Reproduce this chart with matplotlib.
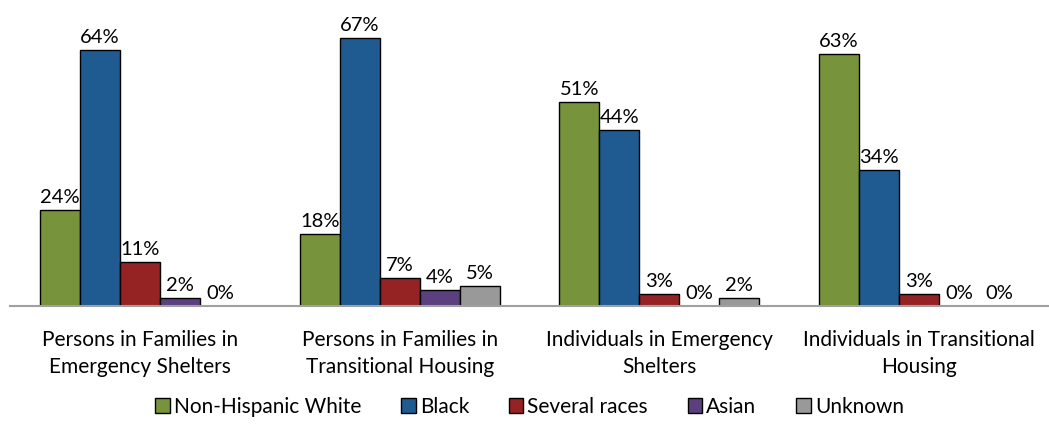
import numpy as np
import matplotlib.pyplot as plt

plt.rcParams['font.family'] = ['Lato', 'DejaVu Sans']

categories = ['Persons in Families in\nEmergency Shelters',
              'Persons in Families in\nTransitional Housing',
              'Individuals in Emergency\nShelters',
              'Individuals in Transitional\nHousing']
series = ['Non-Hispanic White', 'Black', 'Several races', 'Asian', 'Unknown']
white = [24, 18, 51, 63]
black = [64, 67, 44, 34]
several = [11, 7, 3, 3]
asian = [2, 4, 0, 0]
unknown = [0, 5, 2, 0]
colors = ['#77933C', '#1F5A91', '#952323', '#5B3F7F', '#999999']

values = [white, black, several, asian, unknown]

fig = plt.figure(figsize=(10.49, 4.29), dpi=100)
ax = fig.add_axes([10 / 1049, 1 - 306 / 429, 1 - 10 / 1049, 280 / 429])

x = np.arange(len(categories))
w = 0.154
for i, (name, vals, c) in enumerate(zip(series, values, colors)):
    pos = x + (i - 2) * w
    ax.bar(pos, vals, width=w, color=c, edgecolor='black', linewidth=1.0, label=name)
    for p, v in zip(pos, vals):
        ax.text(p, v + 1.0, f'{v}%', ha='center', va='bottom', fontsize=14.5)

ax.set_xlim(-0.5, 3.5)
ax.set_ylim(0, 70)
ax.set_yticks([])
ax.set_xticks(x)
ax.set_xticklabels(categories, fontsize=15, linespacing=1.45)
ax.tick_params(axis='x', length=0, pad=17)
for s in ['top', 'right', 'left']:
    ax.spines[s].set_visible(False)
ax.spines['bottom'].set_color('#A0A0A0')
ax.spines['bottom'].set_linewidth(1.5)

ax.legend(loc='center', bbox_to_anchor=(0.5, -0.36), ncol=5, frameon=False,
          fontsize=15, handlelength=0.7, handleheight=0.7, handletextpad=0.2,
          columnspacing=1.9)

plt.savefig('out.png', dpi=100)
